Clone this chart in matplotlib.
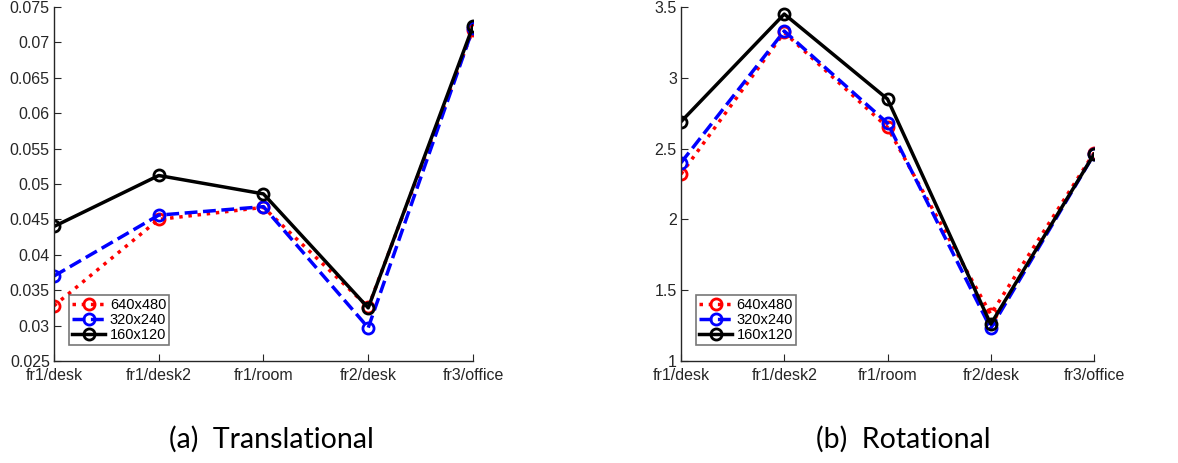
import numpy as np
import matplotlib.pyplot as plt
from matplotlib.ticker import FuncFormatter

plt.rcParams['font.family'] = ['Liberation Sans', 'DejaVu Sans']

sequences = ['fr1/desk', 'fr1/desk2', 'fr1/room', 'fr2/desk', 'fr3/office']
resolutions = ['640x480', '320x240', '160x120']

# translational error per sequence
trans_640 = [0.0328, 0.0450, 0.0467, 0.0326, 0.0718]
trans_320 = [0.0370, 0.0456, 0.0468, 0.0297, 0.0720]
trans_160 = [0.0440, 0.0512, 0.0486, 0.0325, 0.0723]

# rotational error per sequence
rot_640 = [2.32, 3.32, 2.65, 1.33, 2.47]
rot_320 = [2.40, 3.33, 2.68, 1.23, 2.46]
rot_160 = [2.69, 3.45, 2.85, 1.26, 2.46]

styles = [
    dict(color='red', linestyle=':'),
    dict(color='blue', linestyle='--'),
    dict(color='black', linestyle='-'),
]

fig = plt.figure(figsize=(11.78, 4.63), dpi=100)
ax1 = fig.add_axes([0.0458, 0.2203, 0.3557, 0.7646])
ax2 = fig.add_axes([0.5781, 0.2203, 0.3506, 0.7646])

x = np.arange(1, len(sequences) + 1)

def draw(ax, series, yticks):
    for vals, st, name in zip(series, styles, resolutions):
        ax.plot(x, vals, marker='o', markersize=8, markerfacecolor='none',
                markeredgewidth=2, linewidth=2.5, label=name, **st)
    ax.set_xlim(1, 5)
    ax.set_ylim(yticks[0], yticks[-1])
    ax.set_xticks(x)
    ax.set_xticklabels(sequences)
    ax.set_yticks(yticks)
    ax.yaxis.set_major_formatter(FuncFormatter(lambda v, p: '%g' % round(v, 4)))
    for s in ['top', 'right']:
        ax.spines[s].set_visible(False)
    for s in ['left', 'bottom']:
        ax.spines[s].set_color('#262626')
        ax.spines[s].set_linewidth(1.0)
    ax.tick_params(direction='in', length=5, width=0.8, labelsize=11.5,
                   colors='#262626', pad=3)
    ax.tick_params(axis='x', pad=5)
    leg = ax.legend(loc='lower left', bbox_to_anchor=(0.036, 0.045), fontsize=10.5,
                    frameon=True, fancybox=False, edgecolor='#555555',
                    handlelength=2.3, handletextpad=0.3, borderpad=0.2,
                    labelspacing=0.08, borderaxespad=0.0)
    leg.get_frame().set_linewidth(1.2)
    ax.set_facecolor('none')

draw(ax1, [trans_640, trans_320, trans_160], np.arange(0.025, 0.0751, 0.005))
draw(ax2, [rot_640, rot_320, rot_160], np.arange(1.0, 3.51, 0.5))

fig.text(0.2301, 0.052, '(a)  Translational', ha='center', va='center',
         fontsize=20.5, family=['Lato', 'DejaVu Sans'])
fig.text(0.7666, 0.052, '(b)  Rotational', ha='center', va='center',
         fontsize=20.5, family=['Lato', 'DejaVu Sans'])

fig.savefig('out.png', dpi=100)
